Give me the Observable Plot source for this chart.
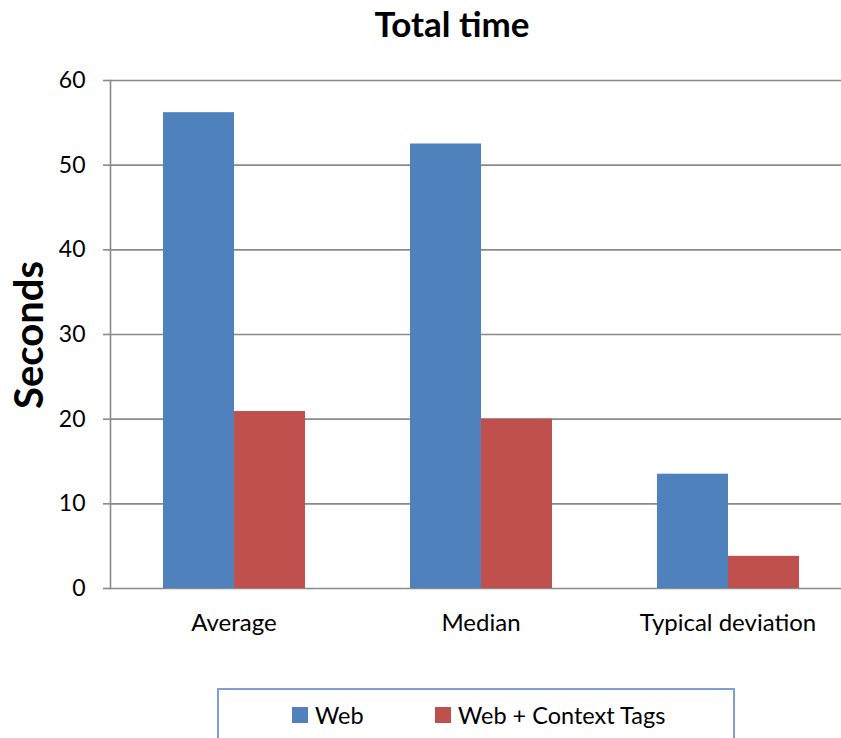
<!DOCTYPE html>
<html><head><meta charset="utf-8">
<script src="https://cdn.jsdelivr.net/npm/d3@7"></script>
<script src="https://cdn.jsdelivr.net/npm/@observablehq/plot@0.6"></script>
<style>
html,body{margin:0;padding:0;overflow:hidden;background:#fff;font-family:Lato,"DejaVu Sans",sans-serif;color:#000;}
#wrap{position:relative;width:841px;height:738px;overflow:hidden;}
#title{height:52px;line-height:46px;text-align:center;padding-left:63px;font-weight:bold;font-size:35px;}
#ylab{position:absolute;left:28px;top:335px;transform:translate(-50%,-50%) rotate(-90deg);font-weight:bold;font-size:40px;white-space:nowrap;}
#legend{position:absolute;left:217px;top:688px;width:514px;height:70px;border:2px solid #7f9fcf;box-sizing:content-box;}
.item{position:absolute;top:11px;display:flex;align-items:center;font-size:23.5px;line-height:28px;}
.sw{width:16px;height:16px;margin-right:7px;}
#chart svg{display:block;}
</style>
</head><body>
<div id="wrap">
  <div id="title">Total time</div>
  <div id="chart"></div>
  <div id="ylab">Seconds</div>
  <div id="legend"></div>
</div>
<script>
const categories = ["Average", "Median", "Typical deviation"];
const series = ["Web", "Web + Context Tags"];
const webValues = [56.2, 52.5, 13.5];
const tagValues = [20.9, 20.0, 3.8];
const colors = ["#4f81bd", "#c0504d"];
const yTicks = [0, 10, 20, 30, 40, 50, 60];

const data = [];
categories.forEach((c, i) => {
  data.push({category: c, series: series[0], value: webValues[i]});
  data.push({category: c, series: series[1], value: tagValues[i]});
});

const chart = Plot.plot({
  width: 841,
  height: 596,
  marginLeft: 110,
  marginRight: 1,
  marginTop: 28,
  marginBottom: 60,
  style: {fontFamily: "Lato, sans-serif", fontSize: "22px", color: "#000", background: "#fff"},
  fx: {domain: categories, padding: 0, range: [110, 851], axis: null, label: null},
  x: {domain: series, paddingInner: 0, paddingOuter: 0.737, axis: null, label: null},
  y: {domain: [0, 60], axis: null, label: null},
  color: {domain: series, range: colors},
  marks: [
    Plot.ruleY(yTicks, {stroke: "#8a8a8a", strokeWidth: 1.6}),
    Plot.barY(data, {fx: "category", x: "series", y: "value", fill: "series"}),
    Plot.frame({anchor: "left", facetAnchor: "left", stroke: "#8a8a8a", strokeWidth: 1.6}),
    Plot.axisY({ticks: yTicks, tickSize: 7, tickPadding: 18, stroke: "#8a8a8a", strokeWidth: 1.6, fill: "#000", fontSize: 23, label: null, tickFormat: d => String(d)}),
    Plot.axisFx({anchor: "bottom", tickSize: 0, tickPadding: 25, fontSize: 24, fill: "#000", label: null})
  ]
});
document.getElementById("chart").appendChild(chart);

const legend = document.getElementById("legend");
const lefts = [73, 216];
series.forEach((s, i) => {
  const it = document.createElement("div");
  it.className = "item";
  it.style.left = lefts[i] + "px";
  const sw = document.createElement("div");
  sw.className = "sw";
  sw.style.background = colors[i];
  const t = document.createElement("span");
  t.textContent = s;
  it.appendChild(sw); it.appendChild(t);
  legend.appendChild(it);
});
</script>
</body></html>
